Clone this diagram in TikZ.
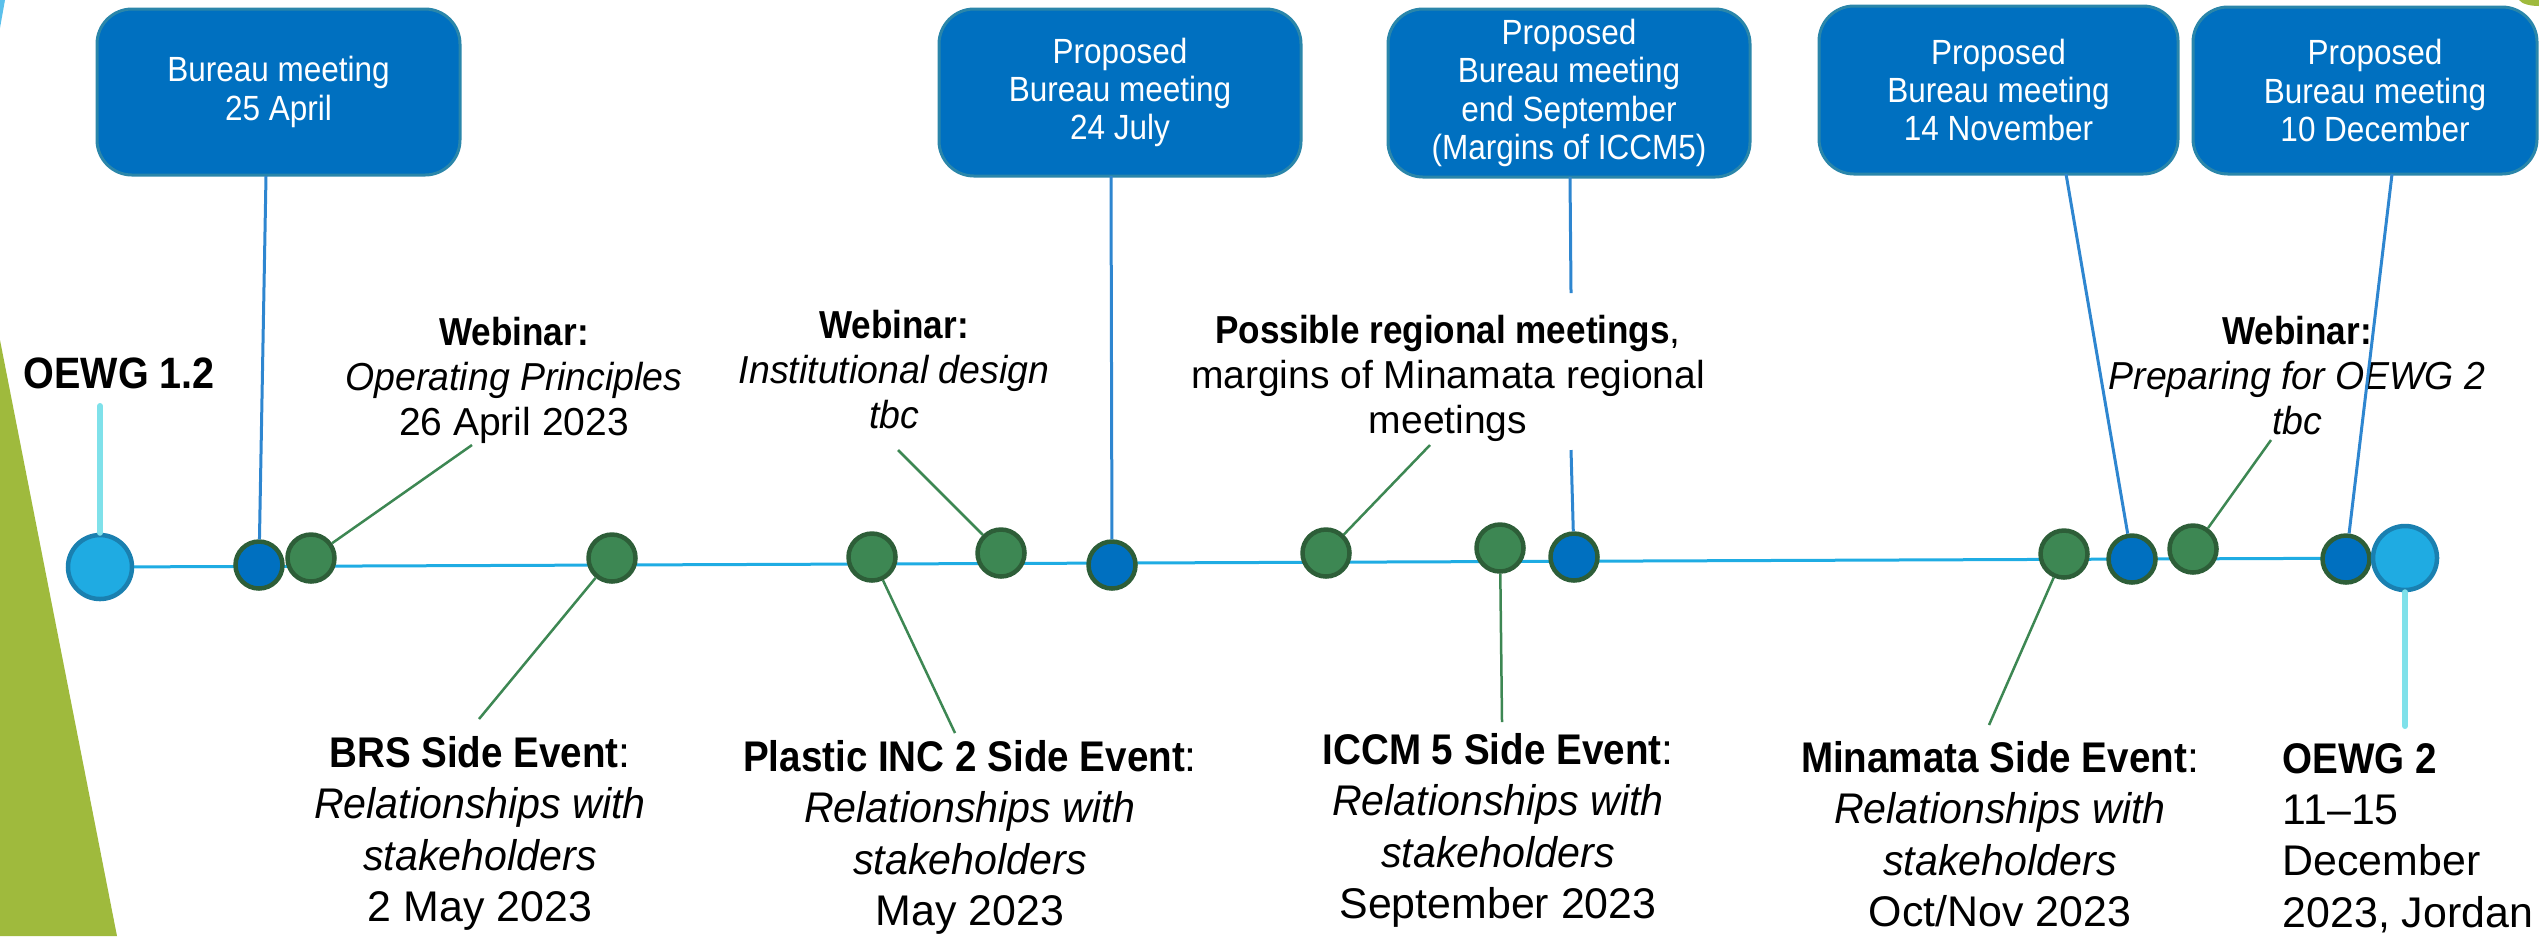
\documentclass[tikz,border=0pt]{standalone}
\usepackage{fontspec}
\setmainfont{Liberation Sans}[BoldFeatures={FakeStretch=0.9}, ItalicFeatures={FakeStretch=0.96}]
\newfontfamily\boxfont{Liberation Sans}[FakeStretch=0.9]
\usetikzlibrary{backgrounds}
\definecolor{boxblue}{HTML}{0070C0}
\definecolor{boxedge}{HTML}{2A86AA}
\definecolor{dotgreen}{HTML}{3D8753}
\definecolor{dotedge}{HTML}{2D5E38}
\definecolor{bigfill}{HTML}{1FABE2}
\definecolor{bigedge}{HTML}{1A80B0}
\definecolor{tlcol}{HTML}{1FACE3}
\definecolor{conblue}{HTML}{2E86D0}
\definecolor{congreen}{HTML}{3D8753}
\definecolor{stemcol}{HTML}{7FE1EA}
\definecolor{lime}{HTML}{9FBA3D}
\definecolor{skyb}{HTML}{5BC0EB}
\begin{document}
\begin{tikzpicture}[x=0.1mm,y=-0.1mm,
  bx/.style={rectangle, rounded corners=3.5mm, fill=boxblue, draw=boxedge, line width=0.3mm,
    text=white, align=center, inner sep=0pt,
    font=\boxfont\fontsize{9.96pt}{10.9pt}\selectfont},
  gdot/.style={circle, fill=dotgreen, draw=dotedge, line width=0.45mm, minimum size=4.7mm, inner sep=0pt},
  bdot/.style={circle, fill=boxblue, draw=dotedge, line width=0.45mm, minimum size=4.7mm, inner sep=0pt},
  bigdot/.style={circle, fill=bigfill, draw=bigedge, line width=0.45mm, minimum size=6.4mm, inner sep=0pt},
  tl/.style={draw=tlcol, line width=0.3mm},
  bc/.style={draw=conblue, line width=0.3mm},
  gc/.style={draw=congreen, line width=0.25mm},
  stem/.style={draw=stemcol, line width=0.6mm, line cap=round},
  toptxt/.style={align=center, inner sep=0pt, anchor=north, font=\fontsize{11.1pt}{12.8pt}\selectfont},
  bottxt/.style={align=center, inner sep=0pt, anchor=north, font=\fontsize{12.2pt}{14.55pt}\selectfont}
]
\useasboundingbox (0,0) rectangle (2539,936);

% decorative shapes
\fill[lime] (0,340) -- (117,936) -- (0,936) -- cycle;
\fill[skyb] (0,0) -- (5,0) -- (0,28) -- cycle;
\fill[lime] (2519,0) .. controls (2522,4) and (2530,6) .. (2539,6) -- (2539,0) -- cycle;

% boxes
\node[bx, minimum width=36.3mm, minimum height=16.6mm] (b1) at (278.5,92) {Bureau meeting\\25 April};
\node[bx, minimum width=36.2mm, minimum height=16.7mm] (b2) at (1120,92.5) {Proposed\\Bureau meeting\\24 July};
\node[bx, minimum width=36.2mm, minimum height=16.8mm] (b3) at (1569,93) {Proposed\\Bureau meeting\\end September\\(Margins of ICCM5)};
\node[bx, minimum width=35.9mm, minimum height=16.8mm] (b4) at (1998.5,90) {Proposed\\Bureau meeting\\14 November};
\node[bx, minimum width=34.4mm, minimum height=16.7mm] (b5) at (2365,90.5) {\hspace*{2mm}Proposed\\\hspace*{2mm}Bureau meeting\\\hspace*{2mm}10 December};

% timeline dots
\node[bigdot] (c1) at (100,567) {};
\node[bdot] (c2) at (259,565) {};
\node[gdot] (c3) at (311,558) {};
\node[gdot] (c4) at (612,558) {};
\node[gdot] (c5) at (872,557) {};
\node[gdot] (c6) at (1001,553) {};
\node[bdot] (c7) at (1112,565) {};
\node[gdot] (c8) at (1326,553) {};
\node[gdot] (c9) at (1500,548) {};
\node[bdot] (c10) at (1574,557) {};
\node[gdot] (c11) at (2064,554) {};
\node[bdot] (c12) at (2132,559) {};
\node[gdot] (c13) at (2193,549) {};
\node[bdot] (c14) at (2346,559) {};
\node[bigdot] (c15) at (2405,558) {};

\begin{pgfonlayer}{background}
\draw[tl] (c1.center) -- (c15.center);
\end{pgfonlayer}

% texts
\node[anchor=base west, inner sep=0pt, font=\fontsize{12.5pt}{14pt}\selectfont\bfseries] (t0) at (23,388) {OEWG 1.2};
\node[toptxt] (t1) at (514,317) {\textbf{Webinar:}\\\textit{Operating Principles}\\26 April 2023};
\node[bottxt] (t2) at (480,736) {\textbf{BRS Side Event}:\\\textit{Relationships with}\\\textit{stakeholders}\\2 May 2023};
\node[toptxt] (t3) at (894,310) {\textbf{Webinar:}\\\textit{Institutional design}\\\textit{tbc}};
\node[bottxt] (t4) at (970,740) {\textbf{Plastic INC 2 Side Event}:\\\textit{Relationships with}\\\textit{stakeholders}\\May 2023};
\node[toptxt] (t5) at (1448,315) {\textbf{Possible regional meetings},\\margins of Minamata regional\\meetings};
\node[bottxt] (t6) at (1498,733) {\textbf{ICCM 5 Side Event}:\\\textit{Relationships with}\\\textit{stakeholders}\\September 2023};
\node[bottxt] (t7) at (2000,741) {\textbf{Minamata Side Event}:\\\textit{Relationships with}\\\textit{stakeholders}\\Oct/Nov 2023};
\node[bottxt, align=left, anchor=north west] (t8) at (2282,743) {\textbf{OEWG 2}\\11–15\\December\\2023, Jordan};
\node[toptxt] (t9) at (2297,316) {\textbf{Webinar:}\\\textit{Preparing for OEWG 2}\\\textit{tbc}};

% free ends
\coordinate (s1) at (100,406);
\coordinate (s2) at (2405,726);
\coordinate (k1) at (266,176);
\coordinate (k2) at (1111,176);
\coordinate (k3a) at (1570,177);
\coordinate (k3b) at (1571,293);
\coordinate (k3c) at (1571,450);
\coordinate (k4) at (2066,174);
\coordinate (k5) at (2392,174);
\coordinate (e3) at (472,445);
\coordinate (e4) at (479,719);
\coordinate (e5) at (955,733);
\coordinate (e6) at (898,450);
\coordinate (e8) at (1430,445);
\coordinate (e9) at (1502,722);
\coordinate (e11) at (1989,725);
\coordinate (e13) at (2271,440);

% stems
\draw[stem] (c1.north) -- (s1);
\draw[stem] (c15.south) -- (s2);

% bureau connectors
\draw[bc] (k1) -- (c2);
\draw[bc] (k2) -- (c7);
\draw[bc] (k3a) -- (k3b);
\draw[bc] (k3c) -- (c10);
\draw[bc] (k4) -- (c12);
\draw[bc] (k5) -- (c14);

% event connectors
\draw[gc] (c3) -- (e3);
\draw[gc] (c4) -- (e4);
\draw[gc] (c5) -- (e5);
\draw[gc] (c6) -- (e6);
\draw[gc] (c8) -- (e8);
\draw[gc] (c9) -- (e9);
\draw[gc] (c11) -- (e11);
\draw[gc] (c13) -- (e13);
\end{tikzpicture}
\end{document}
